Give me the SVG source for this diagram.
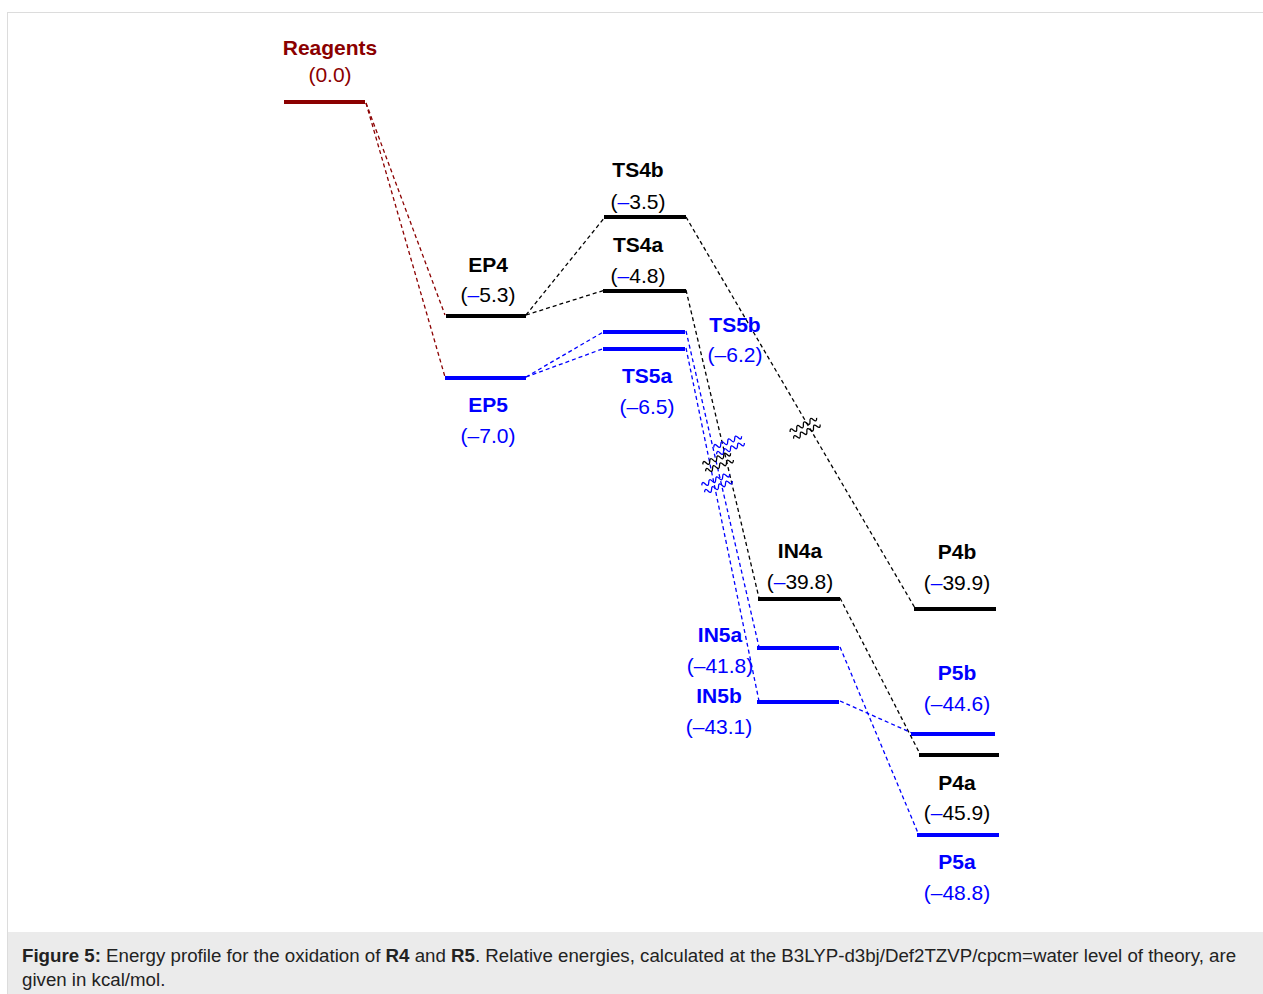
<svg xmlns="http://www.w3.org/2000/svg" xmlns:xlink="http://www.w3.org/1999/xlink" width="1263" height="994" viewBox="0 0 1263 994">
<defs>
<style>
.lbl{font-family:"Liberation Sans",Arial,sans-serif;font-size:21px;text-anchor:middle}
.b{font-weight:bold}
.k{fill:#000}
.bl{fill:#0000ff}
.dr{fill:#8b0000}
.lvk{stroke:#000;stroke-width:4;fill:none}
.lvb{stroke:#0000ff;stroke-width:4;fill:none}
.lvr{stroke:#8b0000;stroke-width:4;fill:none}
.c{fill:none;stroke-width:1.3;stroke-dasharray:4 3}
.ck{stroke:#000}
.cb{stroke:#0000ff}
.cr{stroke:#8b0000}
.wave{fill:none;stroke-width:1.3}
.cap{font-family:"Liberation Sans",Arial,sans-serif;font-size:18.7px;fill:#222}
</style>
<g id="brk">
<path d="M-15,-3.5 q1.9,-4.5 3.75,0 t3.75,0 t3.75,0 t3.75,0 t3.75,0 t3.75,0 t3.75,0 t3.75,0"/>
<path d="M-15,4 q1.9,-4.5 3.75,0 t3.75,0 t3.75,0 t3.75,0 t3.75,0 t3.75,0 t3.75,0 t3.75,0"/>
</g>
</defs>
<rect x="7.5" y="12.5" width="1270" height="990" fill="#fff" stroke="#dcdcdc" stroke-width="1"/>
<rect x="8" y="932" width="1260" height="62" fill="#ebebeb"/>

<g id="connectors">
<line class="c cr" x1="366" y1="103" x2="445" y2="315"/>
<line class="c cr" x1="366" y1="103" x2="445" y2="377"/>
<line class="c ck" x1="526" y1="315" x2="605" y2="217"/>
<line class="c ck" x1="526" y1="315" x2="605" y2="290"/>
<line class="c cb" x1="526" y1="377" x2="605" y2="331"/>
<line class="c cb" x1="526" y1="377" x2="605" y2="348"/>
<line class="c ck" x1="686" y1="217" x2="915" y2="608"/>
<line class="c ck" x1="686" y1="290" x2="759" y2="598"/>
<line class="c cb" x1="686" y1="331" x2="759" y2="647"/>
<line class="c cb" x1="686" y1="348" x2="759" y2="701"/>
<line class="c ck" x1="840" y1="598" x2="920" y2="754"/>
<line class="c cb" x1="840" y1="647" x2="918" y2="833"/>
<line class="c cb" x1="840" y1="701" x2="912" y2="733"/>
<use xlink:href="#brk" class="wave" stroke="#000" transform="translate(805,428) rotate(-28)"/>
<use xlink:href="#brk" class="wave" stroke="#0000ff" transform="translate(729,445) rotate(-22)"/>
<use xlink:href="#brk" class="wave" stroke="#000" transform="translate(718,462) rotate(-22)"/>
<use xlink:href="#brk" class="wave" stroke="#0000ff" transform="translate(717,483) rotate(-22)"/>
</g>

<g id="Reagents">
<line class="lvr" x1="284" y1="102" x2="365" y2="102"/>
<text class="lbl b dr" x="330" y="55" font-size="21.5">Reagents</text>
<text class="lbl dr" x="330" y="81.5">(0.0)</text>
</g>
<g id="EP4">
<line class="lvk" x1="446" y1="316" x2="526" y2="316"/>
<text class="lbl b k" x="488" y="271.5">EP4</text>
<text class="lbl k" x="488" y="302">(<tspan class="bl">–</tspan>5.3)</text>
</g>
<g id="EP5">
<line class="lvb" x1="445" y1="378" x2="526" y2="378"/>
<text class="lbl b bl" x="488" y="412">EP5</text>
<text class="lbl bl" x="488" y="443">(–7.0)</text>
</g>
<g id="TS4b">
<line class="lvk" x1="604" y1="217" x2="686" y2="217"/>
<text class="lbl b k" x="638" y="177">TS4b</text>
<text class="lbl k" x="638" y="208.5">(<tspan class="bl">–</tspan>3.5)</text>
</g>
<g id="TS4a">
<line class="lvk" x1="603" y1="291" x2="686" y2="291"/>
<text class="lbl b k" x="638" y="252">TS4a</text>
<text class="lbl k" x="638" y="283">(<tspan class="bl">–</tspan>4.8)</text>
</g>
<g id="TS5b">
<line class="lvb" x1="603" y1="332" x2="685" y2="332"/>
<text class="lbl b bl" x="735" y="331.5">TS5b</text>
<text class="lbl bl" x="735" y="362">(–6.2)</text>
</g>
<g id="TS5a">
<line class="lvb" x1="603" y1="349" x2="685" y2="349"/>
<text class="lbl b bl" x="647" y="383">TS5a</text>
<text class="lbl bl" x="647" y="414">(–6.5)</text>
</g>
<g id="IN4a">
<line class="lvk" x1="758" y1="599" x2="840" y2="599"/>
<text class="lbl b k" x="800" y="558">IN4a</text>
<text class="lbl k" x="800" y="589">(<tspan class="bl">–</tspan>39.8)</text>
</g>
<g id="IN5a">
<line class="lvb" x1="757" y1="648" x2="839" y2="648"/>
<text class="lbl b bl" x="720" y="642">IN5a</text>
<text class="lbl bl" x="720" y="673">(–41.8)</text>
</g>
<g id="IN5b">
<line class="lvb" x1="757" y1="702" x2="839" y2="702"/>
<text class="lbl b bl" x="719" y="703">IN5b</text>
<text class="lbl bl" x="719" y="734">(–43.1)</text>
</g>
<g id="P4b">
<line class="lvk" x1="914" y1="609" x2="996" y2="609"/>
<text class="lbl b k" x="957" y="559">P4b</text>
<text class="lbl k" x="957" y="590">(<tspan class="bl">–</tspan>39.9)</text>
</g>
<g id="P5b">
<line class="lvb" x1="911" y1="734" x2="995" y2="734"/>
<text class="lbl b bl" x="957" y="680">P5b</text>
<text class="lbl bl" x="957" y="711">(–44.6)</text>
</g>
<g id="P4a">
<line class="lvk" x1="919" y1="755" x2="999" y2="755"/>
<text class="lbl b k" x="957" y="790">P4a</text>
<text class="lbl k" x="957" y="820">(<tspan class="bl">–</tspan>45.9)</text>
</g>
<g id="P5a">
<line class="lvb" x1="917" y1="835" x2="999" y2="835"/>
<text class="lbl b bl" x="957" y="869">P5a</text>
<text class="lbl bl" x="957" y="900">(–48.8)</text>
</g>

<g id="caption">
<text class="cap" x="22" y="962"><tspan font-weight="bold">Figure 5:</tspan> Energy profile for the oxidation of <tspan font-weight="bold">R4</tspan> and <tspan font-weight="bold">R5</tspan>. Relative energies, calculated at the B3LYP-d3bj/Def2TZVP/cpcm=water level of theory, are</text>
<text class="cap" x="22" y="986">given in kcal/mol.</text>
</g>
</svg>
